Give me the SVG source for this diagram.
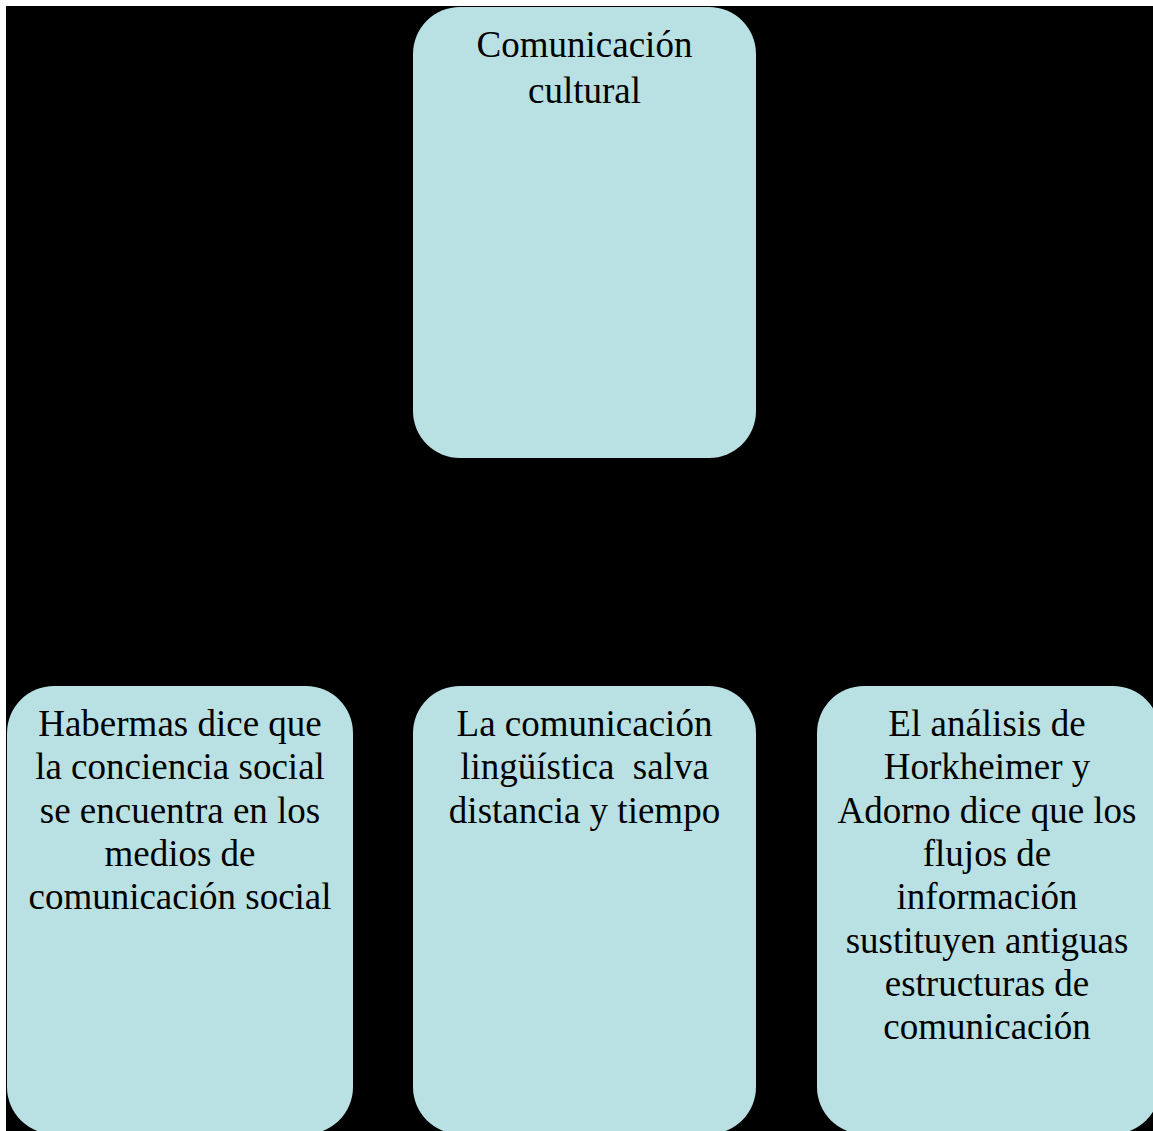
<svg xmlns="http://www.w3.org/2000/svg" width="1153" height="1131" viewBox="0 0 1153 1131">
<style>
.box{fill:#B9E0E3;}
.t{font-family:"Liberation Serif","Times New Roman",serif;font-size:37px;fill:#000;text-anchor:middle;}
</style>
<rect x="0" y="0" width="1153" height="1131" fill="#ffffff"/>
<rect x="6" y="6" width="1147" height="1125" fill="#000000"/>
<g id="connectors"></g>
<g id="node-top">
<rect class="box" x="413" y="7" width="343" height="451" rx="47" ry="47"/>
<text class="t" x="584.5" y="57">Comunicación</text>
<text class="t" x="584.5" y="102.5">cultural</text>
</g>
<g id="node-left">
<rect class="box" x="7" y="686" width="346" height="448" rx="47" ry="47"/>
<text class="t" x="180" y="736">Habermas dice que</text>
<text class="t" x="180" y="779.3">la conciencia social</text>
<text class="t" x="180" y="822.6">se encuentra en los</text>
<text class="t" x="180" y="865.9">medios de</text>
<text class="t" x="180" y="909.2">comunicación social</text>
</g>
<g id="node-middle">
<rect class="box" x="413" y="686" width="343" height="448" rx="47" ry="47"/>
<text class="t" x="584.5" y="736">La comunicación</text>
<text class="t" x="584.5" y="779.3" xml:space="preserve">lingüística  salva</text>
<text class="t" x="584.5" y="822.6">distancia y tiempo</text>
</g>
<g id="node-right">
<rect class="box" x="817" y="686" width="343" height="448" rx="47" ry="47"/>
<text class="t" x="987" y="736">El análisis de</text>
<text class="t" x="987" y="779.3">Horkheimer y</text>
<text class="t" x="987" y="822.6">Adorno dice que los</text>
<text class="t" x="987" y="865.9">flujos de</text>
<text class="t" x="987" y="909.2">información</text>
<text class="t" x="987" y="952.5">sustituyen antiguas</text>
<text class="t" x="987" y="995.8">estructuras de</text>
<text class="t" x="987" y="1039.1">comunicación</text>
</g>
</svg>
